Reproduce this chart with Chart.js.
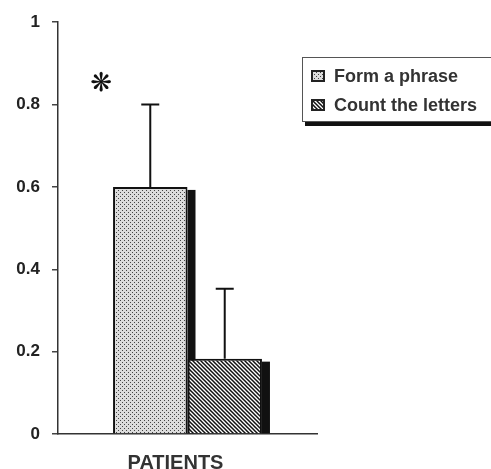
<!DOCTYPE html>
<html>
<head>
<meta charset="utf-8">
<script src="https://cdn.jsdelivr.net/npm/chart.js@4.4.0/dist/chart.umd.min.js"></script>
<style>
  html, body { margin: 0; padding: 0; background: #fff; }
  #wrap { width: 491px; height: 469px; }
</style>
</head>
<body>
<div id="wrap"><canvas id="myChart" width="491" height="469"></canvas></div>
<script>
// data
const groups = ["PATIENTS"];
const seriesNames = ["Form a phrase", "Count the letters"];
const phraseMean = [0.6];
const lettersMean = [0.183];
const phraseErr = [0.2];
const lettersErr = [0.17];
const yTicks = [0, 0.2, 0.4, 0.6, 0.8, 1];

const FONT = "'Liberation Sans', Arial, sans-serif";

// fill patterns
const makeDots = function () {
  const c = document.createElement("canvas");
  c.width = 4;
  c.height = 4;
  const g = c.getContext("2d");
  g.fillStyle = "#dcdcdc";
  g.fillRect(0, 0, 4, 4);
  g.fillStyle = "#444";
  g.fillRect(0, 0, 1, 1);
  g.fillRect(2, 2, 1, 1);
  return g.createPattern(c, "repeat");
};
const makeHatch = function () {
  const c = document.createElement("canvas");
  c.width = 4;
  c.height = 4;
  const g = c.getContext("2d");
  g.fillStyle = "#fff";
  g.fillRect(0, 0, 4, 4);
  g.strokeStyle = "#111";
  g.lineWidth = 1.5;
  g.beginPath();
  g.moveTo(-1, -1);
  g.lineTo(5, 5);
  g.moveTo(-1, 3);
  g.lineTo(1, 5);
  g.moveTo(3, -1);
  g.lineTo(5, 1);
  g.stroke();
  return g.createPattern(c, "repeat");
};

const ctx = document.getElementById("myChart").getContext("2d");
const fills = [makeDots(), makeHatch()];
const errs = [phraseErr, lettersErr];

// black drop shadow to the right of each bar
const shadowPlugin = {
  id: "shadows",
  beforeDatasetsDraw(chart) {
    const c = chart.ctx;
    c.save();
    c.fillStyle = "#111";
    chart.data.datasets.forEach((ds, i) => {
      chart.getDatasetMeta(i).data.forEach((bar) => {
        const right = bar.x + bar.width / 2;
        c.fillRect(right, bar.y + 3, 8, bar.base - bar.y - 3);
      });
    });
    c.restore();
  },
};

// one sided error bars + asterisk
const errorPlugin = {
  id: "errors",
  afterDatasetsDraw(chart) {
    const c = chart.ctx;
    const y = chart.scales.y;
    c.save();
    c.strokeStyle = "#111";
    c.lineWidth = 2;
    chart.data.datasets.forEach((ds, i) => {
      chart.getDatasetMeta(i).data.forEach((bar, j) => {
        const top = y.getPixelForValue(ds.data[j] + errs[i][j]);
        c.beginPath();
        c.moveTo(bar.x, bar.y);
        c.lineTo(bar.x, top);
        c.moveTo(bar.x - 9, top);
        c.lineTo(bar.x + 9, top);
        c.stroke();
      });
    });
    const first = chart.getDatasetMeta(0).data[0];
    c.fillStyle = "#111";
    c.font = "26px 'DejaVu Sans'";
    c.textAlign = "center";
    c.textBaseline = "middle";
    c.fillText("\u274B", first.x - first.width / 2 - 12, y.getPixelForValue(0.85));
    c.restore();
  },
};

// boxed legend, top right
const legendPlugin = {
  id: "boxLegend",
  afterDraw(chart) {
    const c = chart.ctx;
    const x0 = 302, y0 = 57;
    c.save();
    c.fillStyle = "#111";
    c.fillRect(305, 121, 200, 5);
    c.fillStyle = "#fff";
    c.fillRect(x0, y0, 200, 65);
    c.strokeStyle = "#555";
    c.lineWidth = 1;
    c.strokeRect(x0 + 0.5, y0 + 0.5, 200, 64);
    c.font = "bold 18px " + FONT;
    c.textBaseline = "middle";
    chart.data.datasets.forEach((ds, i) => {
      const ry = 76 + i * 29;
      c.fillStyle = "#222";
      c.fillRect(311, ry - 6, 14, 12);
      c.fillStyle = fills[i];
      c.fillRect(313, ry - 4, 10, 8);
      c.fillStyle = "#333";
      c.fillText(ds.label, 334, ry + 1);
    });
    c.restore();
  },
};

const config = {
  type: "bar",
  data: {
    labels: groups,
    datasets: [
      {
        label: seriesNames[0],
        data: phraseMean,
        backgroundColor: fills[0],
        borderColor: "#111",
        borderWidth: 2,
        categoryPercentage: 0.575,
        barPercentage: 1,
      },
      {
        label: seriesNames[1],
        data: lettersMean,
        backgroundColor: fills[1],
        borderColor: "#111",
        borderWidth: 2,
        categoryPercentage: 0.575,
        barPercentage: 1,
      },
    ],
  },
  options: {
    responsive: false,
    animation: false,
    layout: { padding: { top: 12, right: 174, left: 0, bottom: 0 } },
    plugins: {
      legend: { display: false },
      tooltip: { enabled: false },
    },
    scales: {
      x: {
        grid: { drawOnChartArea: false, drawTicks: false },
        border: { display: true, color: "#333", width: 1.5 },
        ticks: {
          color: "#333",
          font: { family: FONT, size: 20, weight: "bold" },
          padding: 17,
          labelOffset: -12,
        },
        afterFit: (s) => {
          s.height = 35;
        },
      },
      y: {
        min: 0,
        max: 1,
        afterBuildTicks: (s) => {
          s.ticks = yTicks.map((v) => ({ value: v }));
        },
        grid: { drawOnChartArea: false, tickLength: 6, color: "#444", lineWidth: 1.5 },
        border: { display: true, color: "#333", width: 1.5 },
        ticks: {
          color: "#222",
          padding: 12,
          font: { family: FONT, size: 17, weight: "bold" },
          callback: (v) => (v === 0 || v === 1 ? String(v) : v.toFixed(1)),
        },
        afterFit: (s) => {
          s.width = 58;
        },
      },
    },
  },
  plugins: [shadowPlugin, errorPlugin, legendPlugin],
};

new Chart(ctx, config);
</script>
</body>
</html>
